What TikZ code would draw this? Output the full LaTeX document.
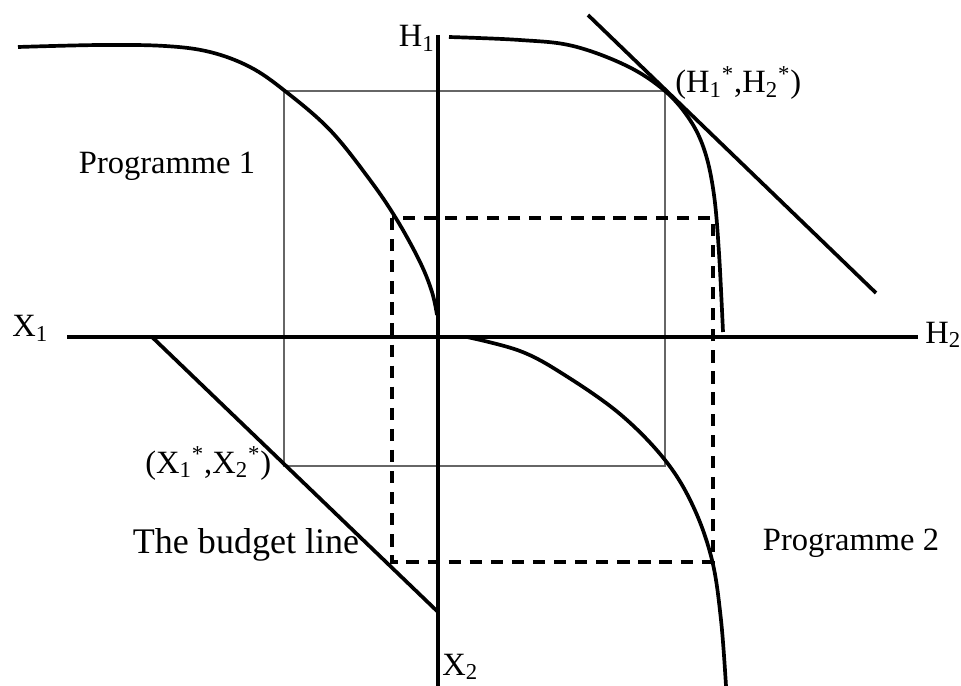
\documentclass[tikz,border=0pt]{standalone}
\usepackage{fontspec}
\setmainfont{Liberation Serif}
\usetikzlibrary{calc}

\begin{document}
\begin{tikzpicture}[x=0.02cm, y=-0.02cm,
    axis/.style={line width=2.4pt},
    curve/.style={line width=2.1pt, line join=round},
    guide/.style={black!60, line width=0.7pt},
    dashline/.style={line width=2.3pt, dash pattern=on 7pt off 5pt},
    lbl/.style={inner sep=0pt, font=\fontsize{18.5}{22}\selectfont}]
    \useasboundingbox (0,0) rectangle (961,686);
    % key points
    \coordinate (O) at (438,337);
    \coordinate (Hstar) at (665,91);
    \coordinate (Xstar) at (284,466);
    % thin guide rectangle
    \draw[guide] (Xstar) rectangle (Hstar);
    % dashed rectangle
    \draw[dashline] (392,218) rectangle (713,562);
    % axes
    \draw[axis] (67,337) -- (918,337);
    \draw[axis] (438,35) -- (438,686);
    \node[lbl, anchor=base west] (x1) at (12,337) {X\textsubscript{1}};
    \node[lbl, anchor=base west] (h2) at (925,343) {H\textsubscript{2}};
    \node[lbl, anchor=base east] (h1) at (435,47) {H\textsubscript{1}};
    \node[lbl, anchor=base west] (x2) at (442,675) {X\textsubscript{2}};
    % programme 1
    \draw[curve] plot[smooth, tension=0.6] coordinates {(18,47) (100,45) (165,46)
      (210,52) (250,67) (285,91) (330,130) (370,180) (397,220) (420,262)
      (432,292) (437,315)};
    \node[lbl] (prog1) at (167,166) {Programme 1};
    % programme 2, upper part
    \draw[curve] plot[smooth, tension=0.6] coordinates {(449,37) (520,40)
      (573,46) (627,66) (665,91) (690,120) (705,152) (714,195) (719,253)
      (723,332)};
    % tangent line
    \draw[curve] (588,15) -- (876,293);
    \node[lbl, anchor=base west] (hstar) at (675,93)
      {(H\textsubscript{1}\textsuperscript{*},H\textsubscript{2}\textsuperscript{*})};
    % programme 2, lower part
    \draw[curve] plot[smooth, tension=0.6] coordinates {(467,337) (520,351)
      (563,374) (620,414) (665,460) (693,506) (712,560) (721,620) (726,686)};
    \node[lbl] (prog2) at (851,543) {Programme 2};
    % budget line
    \draw[curve] (152,337) -- (438,612);
    \node[lbl, anchor=base west] (xstar) at (145,473)
      {(X\textsubscript{1}\textsuperscript{*},X\textsubscript{2}\textsuperscript{*})};
    \node[lbl, font=\fontsize{20.5}{24}\selectfont] (budget) at (246,545) {The budget line};
  \end{tikzpicture}
\end{document}
